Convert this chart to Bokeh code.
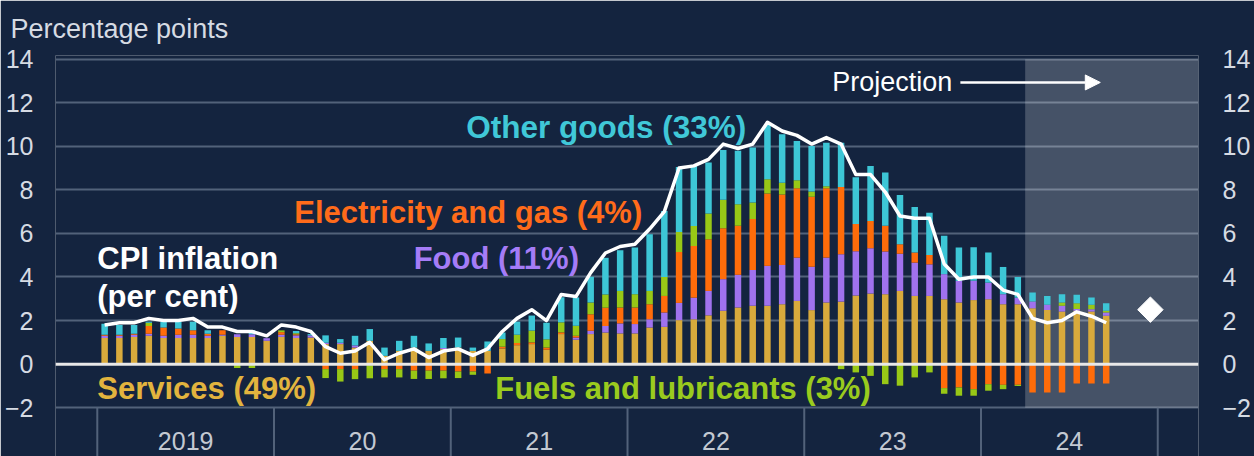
import numpy as np
from bokeh.plotting import figure
from bokeh.models import (Range1d, FixedTicker, LinearAxis, Span, BoxAnnotation,
                          Arrow, NormalHead, ColumnDataSource)
from bokeh.core.properties import value
from bokeh.embed import file_html
from bokeh.resources import INLINE

# ---------------- data (monthly, Jan 2019 .. Sep 2024) ----------------
start_month = "2019-01"
years = ["2019", "20", "21", "22", "23", "24"]

services = [1.20, 1.20, 1.25, 1.30, 1.20, 1.20, 1.20, 1.20, 1.30, 1.25, 1.25, 1.07,
            1.25, 1.20, 1.22, 0.92, 0.92, 0.76, 1.07, 0.38, 0.61, 0.76, 0.61, 0.69,
            0.76, 0.61, 0.61, 0.72, 0.87, 0.92, 0.66, 1.38, 1.12, 1.38, 1.45, 1.41,
            1.41, 1.68, 1.71, 2.02, 2.06, 2.24, 2.45, 2.60, 2.68, 2.68, 2.75, 2.90,
            2.48, 2.83, 2.87, 3.15, 3.24, 3.21, 3.36, 3.13, 3.13, 2.98, 2.83, 2.94,
            2.98, 2.75, 2.75, 2.57, 2.48, 2.42, 2.45, 2.42, 2.22]
food = [0.10, 0.10, 0.10, 0.10, 0.10, 0.15, 0.15, 0.10, 0.05, 0.12, 0.12, 0.12,
        0.10, 0.12, 0.10, 0.06, 0.06, 0.10, 0.00, 0.00, 0.00, 0.00, 0.00, 0.05,
        0.00, 0.00, 0.00, 0.00, 0.00, 0.00, 0.00, 0.00, 0.10, 0.15, 0.30, 0.46,
        0.43, 0.38, 0.66, 0.79, 0.99, 1.12, 1.45, 1.50, 1.64, 1.83, 1.80, 1.99,
        1.99, 2.06, 2.17, 2.03, 2.08, 1.96, 1.71, 1.53, 1.45, 1.15, 0.99, 0.89,
        0.76, 0.46, 0.30, 0.31, 0.24, 0.26, 0.08, 0.10, 0.15]
electricity_gas = [0.05, 0.05, 0.05, 0.35, 0.38, 0.28, 0.20, 0.10, 0.20, 0.00, 0.00, 0.00,
                   0.12, 0.05, 0.00, -0.23, -0.23, -0.23, -0.05, -0.23, -0.23, -0.30, -0.30, -0.30,
                   -0.34, -0.34, -0.43, 0.08, 0.10, 0.08, 0.10, 0.08, 0.08, 0.76, 0.84, 0.73,
                   0.76, 0.69, 0.76, 2.34, 2.37, 2.37, 2.34, 2.25, 2.34, 3.32, 3.24, 3.18,
                   3.21, 3.18, 3.09, 1.25, 1.25, 1.18, 0.43, 0.46, 0.43, -1.10, -1.07, -1.15,
                   -0.92, -0.95, -0.95, -1.30, -1.30, -1.30, -0.89, -0.89, -0.89]
fuels = [0.00, 0.00, 0.00, 0.15, 0.00, 0.00, 0.00, 0.00, 0.00, -0.18, -0.18, 0.00,
         0.08, 0.05, 0.00, -0.41, -0.57, -0.46, -0.60, -0.38, -0.38, -0.38, -0.38, -0.35,
         -0.30, -0.15, 0.00, 0.35, 0.38, 0.54, 0.38, 0.46, 0.46, 0.54, 0.61, 0.76,
         0.61, 0.61, 0.87, 0.92, 0.92, 1.18, 1.30, 0.99, 0.76, 0.66, 0.54, 0.37,
         0.24, 0.10, -0.23, -0.38, -0.54, -0.92, -0.99, -0.61, -0.38, -0.26, -0.38, -0.30,
         -0.30, -0.20, -0.05, 0.00, 0.00, 0.15, 0.26, 0.20, 0.08]
other_goods = [0.50, 0.45, 0.40, 0.05, 0.25, 0.30, 0.40, 0.15, 0.00, 0.00, 0.18, 0.00,
               0.00, 0.10, 0.06, 0.34, 0.17, 0.44, 0.54, 0.38, 0.46, 0.54, 0.34, 0.46,
               0.46, 0.15, 0.43, 0.30, 0.60, 0.69, 0.76, 1.15, 1.30, 1.18, 1.68, 1.87,
               2.14, 2.60, 3.03, 2.98, 2.75, 2.34, 2.29, 2.45, 2.52, 2.52, 2.22, 1.80,
               2.09, 1.99, 2.03, 2.15, 2.52, 2.45, 2.26, 2.09, 1.94, 1.76, 1.53, 1.53,
               1.38, 1.25, 0.95, 0.41, 0.41, 0.38, 0.40, 0.34, 0.34]
cpi = [1.8, 1.9, 1.9, 2.1, 2.0, 2.0, 2.1, 1.7, 1.7, 1.5, 1.5, 1.3,
       1.8, 1.7, 1.5, 0.8, 0.5, 0.6, 1.0, 0.2, 0.5, 0.7, 0.3, 0.6,
       0.7, 0.4, 0.7, 1.5, 2.1, 2.5, 2.0, 3.2, 3.1, 4.2, 5.1, 5.4,
       5.5, 6.2, 7.0, 9.0, 9.1, 9.4, 10.1, 9.9, 10.1, 11.1, 10.7, 10.5,
       10.1, 10.4, 10.1, 8.7, 8.7, 7.9, 6.8, 6.7, 6.7, 4.6, 3.9, 4.0,
       4.0, 3.4, 3.2, 2.1, 1.9, 2.0, 2.4, 2.2, 1.9]
projection_start = 63        # Apr 2024 (month index)
diamond_month = 71           # Dec 2024
diamond_value = [2.5]
y_ticks = [-2, 0, 2, 4, 6, 8, 10, 12, 14]

# ---------------- styling ----------------
BG = "#14243f"
GRID = "#52627a"
TXT = "#d6dbe3"
C_SERV, C_FOOD, C_ELEC, C_FUEL, C_OTH = "#d8aa3c", "#a072ee", "#ff6c0a", "#98c816", "#3dc6d6"
FONT = "Liberation Sans"

W, H = 1254, 456
# pixel geometry (figure coordinates)
frame_left, frame_right, frame_top = 55, 1204, 54
month_px = 14.806
unit_px = 21.84
first_bar_px = 104.4         # centre of month 0
zero_px = 363.4

x0 = -(first_bar_px - frame_left) / month_px
x1 = x0 + (frame_right - frame_left) / month_px
y1 = (zero_px - frame_top) / unit_px
y0 = y1 - (H - frame_top) / unit_px

p = figure(width=W, height=H, output_backend="svg", toolbar_location=None,
           x_range=Range1d(x0, x1), y_range=Range1d(y0, y1),
           x_axis_location=None, min_border_left=frame_left,
           min_border_right=W - frame_right, min_border_top=frame_top,
           min_border_bottom=0, background_fill_color=BG, border_fill_color=BG)
p.outline_line_color = None
p.xgrid.visible = False
p.ygrid.ticker = FixedTicker(ticks=[t for t in y_ticks if t != 0])
p.ygrid.grid_line_color = GRID
p.ygrid.grid_line_width = 2

# title (unit label, top-left)
p.title.text = "Percentage points"
p.title.text_font = FONT
p.title.text_font_style = "normal"
p.title.text_font_size = "27px"
p.title.text_color = TXT
p.title.align = "left"
p.title.offset = -45
p.title.standoff = 23

def style_axis(ax, standoff):
    ax.ticker = FixedTicker(ticks=y_ticks)
    ax.axis_line_color = None
    ax.major_tick_line_color = None
    ax.minor_tick_line_color = None
    ax.major_label_text_font = FONT
    ax.major_label_text_font_size = "25px"
    ax.major_label_text_color = TXT
    ax.major_label_standoff = standoff

style_axis(p.yaxis[0], 16)
right_ax = LinearAxis()
style_axis(right_ax, 18)
p.add_layout(right_ax, "right")

# projection shading
shade = BoxAnnotation(left=projection_start - 0.5, bottom=-2, top=14,
                      fill_color="white", fill_alpha=0.21, line_color=None,
                      level="underlay")
p.add_layout(shade)

n = len(cpi)
months = np.arange(n)

# year separators and labels
seps = [12 * i - 0.5 for i in range(len(years) + 1)]
p.segment(x0=seps, y0=[-2] * len(seps), x1=seps, y1=[y0] * len(seps),
          line_color=GRID, line_width=2)
p.text(x=[12 * i + 5.5 for i in range(len(years))], y=[-3.51] * len(years),
       text=years, text_font=value(FONT), text_font_size="25px",
       text_color="#c3c9d2", text_align="center", text_baseline="middle")

# stacked bars
comps = [(services, C_SERV), (food, C_FOOD), (electricity_gas, C_ELEC),
         (fuels, C_FUEL), (other_goods, C_OTH)]
pos_base = np.zeros(n)
neg_base = np.zeros(n)
for vals, col in comps:
    v = np.array(vals, dtype=float)
    pos = np.clip(v, 0, None)
    neg = np.clip(v, None, 0)
    bottom = np.where(v >= 0, pos_base, neg_base)
    top = np.where(v >= 0, pos_base + pos, neg_base + neg)
    pos_base = pos_base + pos
    neg_base = neg_base + neg
    src = ColumnDataSource(dict(x=months, bottom=bottom, top=top))
    p.vbar(x="x", bottom="bottom", top="top", width=0.44, source=src,
           fill_color=col, line_color=None)

# zero line
p.add_layout(Span(location=0, dimension="width", line_color="#e8e8e8", line_width=3))

# CPI line
p.line(months, cpi, line_color="white", line_width=3.5, line_join="round")

# projection diamond
p.scatter([diamond_month], diamond_value, marker="square", size=18, angle=np.pi / 4,
          fill_color="white", line_color="white")

# annotations
def label(x, y, txt, color, bold=True, size="31px"):
    p.text(x=[x], y=[y], text=[txt], text_font=value(FONT), text_font_size=size,
           text_font_style="bold" if bold else "normal", text_color=color,
           text_align="left", text_baseline="middle")

label(24.55, 10.87, "Other goods (33%)", "#40c8d8", size="31.5px")
label(12.87, 6.98, "Electricity and gas (4%)", "#ff6b1a")
label(20.98, 4.83, "Food (11%)", "#a57cf7")
label(-0.5, 4.83, "CPI inflation", "white")
label(-0.5, 3.09, "(per cent)", "white")
label(-0.5, -1.13, "Services (49%)", "#e2b43e")
label(26.52, -1.13, "Fuels and lubricants (3%)", "#9acb1e")
label(49.4, 12.93, "Projection", "white", bold=False, size="27px")

p.add_layout(Arrow(end=NormalHead(size=15, fill_color="white", line_color="white"),
                   x_start=58.1, y_start=12.93, x_end=67.6, y_end=12.93,
                   line_color="white", line_width=2.5))

open("out.html", "w").write(file_html(p, INLINE))
